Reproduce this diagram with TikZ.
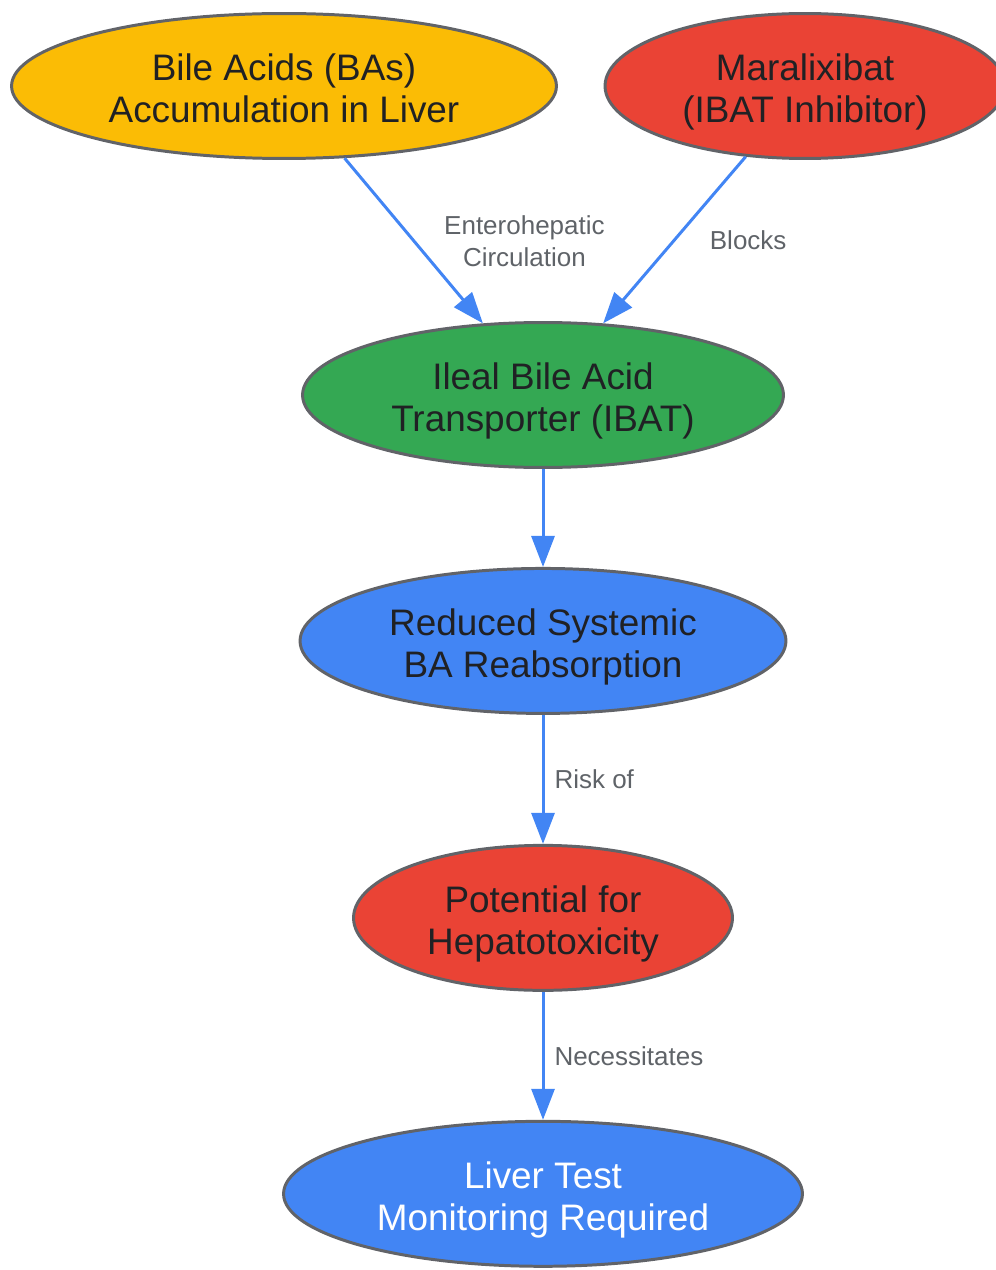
\documentclass[tikz,border=0pt]{standalone}
\usepackage{fontspec}
\setmainfont{Liberation Sans}
\usetikzlibrary{arrows.meta,positioning,shapes.geometric}
\definecolor{MechYellow}{HTML}{FBBC05}
\definecolor{MechRed}{HTML}{EA4335}
\definecolor{MechGreen}{HTML}{34A853}
\definecolor{MechBlue}{HTML}{4285F4}
\definecolor{FlowBlue}{HTML}{4285F4}
\definecolor{OutlineGray}{HTML}{616368}
\definecolor{InkDark}{HTML}{202124}
\definecolor{LabelGray}{HTML}{5F6368}
\newcommand{\tallline}{\rule{0pt}{23pt}}

\begin{document}
\begin{tikzpicture}[x=0.02cm,y=-0.02cm,
    oval/.style={ellipse,draw=OutlineGray,line width=1.7pt,
                 inner sep=0pt,minimum height=2.9cm,
                 font=\fontsize{21}{24}\selectfont,text=InkDark,
                 align=center,
                 execute at end node={\rule[-5pt]{0pt}{5pt}}},
    flow/.style={-{Triangle[length=0.62cm,width=0.46cm]},
                 line width=1.7pt,FlowBlue},
    lbl/.style={font=\fontsize{14.8}{18.2}\selectfont,text=LabelGray,
                align=center,inner sep=0pt}]

    \useasboundingbox (0,0) rectangle (996,1270);

    \node[oval,fill=MechYellow,minimum width=10.9cm] (bile) at (284,86)
          {\tallline Bile Acids (BAs)\\Accumulation in Liver};
    \node[oval,fill=MechRed,minimum width=8.0cm] (mara) at (805,86)
          {\tallline Maralixibat\\(IBAT Inhibitor)};
    \node[oval,fill=MechGreen,minimum width=9.62cm] (ibat) at (543,395)
          {\tallline Ileal Bile Acid\\Transporter (IBAT)};
    \node[oval,fill=MechBlue,minimum width=9.72cm] (reduced) [below=1.96cm of ibat]
          {\tallline Reduced Systemic\\BA Reabsorption};
    \node[oval,fill=MechRed,minimum width=7.58cm] (hepato) [below=2.58cm of reduced]
          {\tallline Potential for\\Hepatotoxicity};
    \node[oval,fill=MechBlue,minimum width=10.38cm,text=white] (monitor) [below=2.56cm of hepato]
          {\tallline Liver Test\\Monitoring Required};

    % connectors
    \draw[flow] (bile.-50) -- (ibat.130)
          node[midway,right=0.58cm,lbl]{Enterohepatic\\Circulation};
    \draw[flow] (mara.-130) -- (ibat.50)
          node[midway,right=0.68cm,lbl]{Blocks};
    \draw[flow] (ibat) -- (reduced);
    \draw[flow] (reduced) -- (hepato)
          node[midway,right=0.2cm,lbl]{Risk of};
    \draw[flow] (hepato) -- (monitor)
          node[midway,right=0.2cm,lbl]{Necessitates};
\end{tikzpicture}
\end{document}
